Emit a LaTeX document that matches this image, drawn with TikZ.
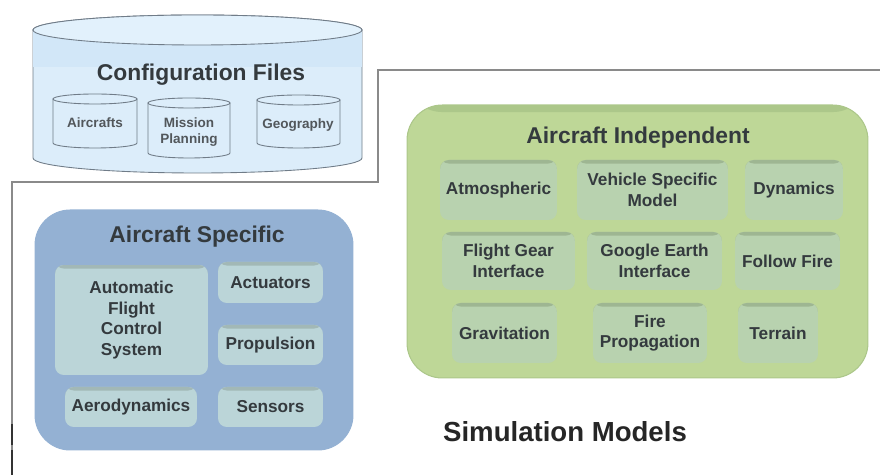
\documentclass[tikz,border=0pt]{standalone}
\usepackage{fontspec}
\setmainfont{Liberation Sans}
\usepackage{tikz}
\usetikzlibrary{positioning}

\definecolor{cfgfill}{RGB}{220,237,250}
\definecolor{cfgband}{RGB}{210,231,248}
\definecolor{cfgtop}{RGB}{226,241,252}
\definecolor{cfgline}{RGB}{112,124,136}
\definecolor{specfill}{RGB}{148,177,211}
\definecolor{specpart}{RGB}{187,213,216}
\definecolor{specshade}{RGB}{162,184,182}
\definecolor{indepfill}{RGB}{190,215,151}
\definecolor{indeprim}{RGB}{172,199,138}
\definecolor{indeppart}{RGB}{184,210,175}
\definecolor{indepshade}{RGB}{158,182,146}
\definecolor{txtgray}{RGB}{52,58,62}
\definecolor{framegray}{RGB}{138,138,138}

\tikzset{
	grouptitle/.style={font=\fontsize{13}{15}\selectfont\bfseries, text=txtgray},
	groupbox/.style 2 args={rounded corners=20pt, fill=#1, draw=#2, line width=0.6pt,
		path picture={\fill[#2] (path picture bounding box.north west) rectangle ([yshift=-4pt]path picture bounding box.north east);}},
	partbox/.style 2 args={rounded corners=5pt, fill=#1, align=center, inner sep=1pt,
		font=\fontsize{9.8}{11.6}\selectfont\bfseries, text=txtgray,
		path picture={\fill[#2] (path picture bounding box.north west) rectangle ([yshift=-2pt]path picture bounding box.north east);}},
	specitem/.style={partbox={specpart}{specshade}},
	indepitem/.style={partbox={indeppart}{indepshade}},
	filetext/.style={align=center, font=\fontsize{7.7}{9.2}\selectfont\bfseries, text=txtgray!85},
	framerule/.style={draw=framegray, line width=0.8pt},
	drumline/.style={draw=cfgline, line width=0.5pt, fill=#1},
}

% left, right, top y, bottom y, half height of the rim, fill
\newcommand{\filedrum}[6]{%
	\pgfmathsetlengthmacro\drumrx{(#2-#1)/2*0.02cm}%
	\pgfmathsetlengthmacro\drumry{#5*0.02cm}%
	\path[drumline=#6] (#1,-#3) -- (#1,-#4) arc[start angle=180, end angle=360, x radius=\drumrx, y radius=\drumry] -- (#2,-#3) -- cycle;
	\path[drumline=#6] ({(#1+#2)/2},-#3) ellipse[x radius=\drumrx, y radius=\drumry];
}

\begin{document}
\begin{tikzpicture}[x=0.02cm, y=0.02cm]
	\useasboundingbox (0,0) rectangle (880,-475);

	% frame
	\draw[framerule] (12,-475) -- (12,-182) -- (378,-182) -- (378,-70) -- (880,-70);
	\draw[line width=1.3pt, black!80] (12,-424) -- (12,-445) (12,-450) -- (12,-475);

	% configuration files
	\filedrum{33}{362}{30}{158}{15}{cfgfill}
	\fill[cfgband] (33.4,-30) rectangle (361.6,-67);
	\path[drumline=cfgtop] (197.5,-30) ellipse[x radius=164.5*0.02cm, y radius=15*0.02cm];
	\node[grouptitle] (cfgtitle) at (201,-75) {Configuration Files};
	\filedrum{53}{137}{99}{143}{5}{cfgfill}
	\filedrum{148}{230}{103}{153}{5}{cfgfill}
	\filedrum{257}{340}{100}{143}{5}{cfgfill}
	\node[filetext] (aircrafts) at (95,-123) {Aircrafts};
	\node[filetext] (mission) at (189,-132) {Mission\\Planning};
	\node[filetext] (geography) at (298,-125) {Geography};

	% aircraft specific
	\node[groupbox={specfill}{specfill}, minimum width=6.36cm, minimum height=4.8cm] (spec) at (194,-330) {};
	\node[grouptitle] (spectitle) at (197,-237) {Aircraft Specific};
	\node[specitem, minimum width=3.06cm, minimum height=2.2cm] (afcs) at (131.5,-320) {Automatic\\Flight\\Control\\System};
	\node[specitem, minimum width=2.1cm, minimum height=0.82cm] (actuators) at (270.5,-282.5) {Actuators};
	\node[specitem, minimum width=2.1cm, minimum height=0.8cm] (propulsion) at (270.5,-345) {Propulsion};
	\node[specitem, minimum width=2.64cm, minimum height=0.8cm] (aero) at (131,-407) {Aerodynamics};
	\node[specitem, minimum width=2.1cm, minimum height=0.8cm] (sensors) at (270.5,-407) {Sensors};

	% aircraft independent
	\node[groupbox={indepfill}{indeprim}, minimum width=9.22cm, minimum height=5.46cm] (indep) at (637.5,-241.5) {};
	\node[grouptitle] (indeptitle) at (638,-138) {Aircraft Independent};
	\node[indepitem, minimum width=2.34cm, minimum height=1.2cm] (atmo) at (498.5,-190) {Atmospheric};
	\node[indepitem, minimum width=3.02cm, minimum height=1.2cm] (vehicle) at (652.5,-190) {Vehicle Specific\\Model};
	\node[indepitem, minimum width=1.96cm, minimum height=1.2cm] (dynamics) at (794,-190) {Dynamics};
	\node[indepitem, minimum width=2.66cm, minimum height=1.16cm] (fgear) at (508.5,-261) {Flight Gear\\Interface};
	\node[indepitem, minimum width=2.7cm, minimum height=1.16cm] (gearth) at (654.5,-261) {Google Earth\\Interface};
	\node[indepitem, minimum width=2.1cm, minimum height=1.16cm] (follow) at (787.5,-261) {Follow Fire};
	\node[indepitem, minimum width=2.1cm, minimum height=1.2cm] (gravity) at (504.5,-333) {Gravitation};
	\node[indepitem, minimum width=2.28cm, minimum height=1.2cm] (firep) at (650,-333) {Fire\\Propagation};
	\node[indepitem, minimum width=1.6cm, minimum height=1.2cm] (terrain) at (778,-333) {Terrain};

	\node[font=\fontsize{15.7}{18}\selectfont\bfseries, text=black!85] (simlabel) at (565,-432) {Simulation Models};
\end{tikzpicture}
\end{document}
